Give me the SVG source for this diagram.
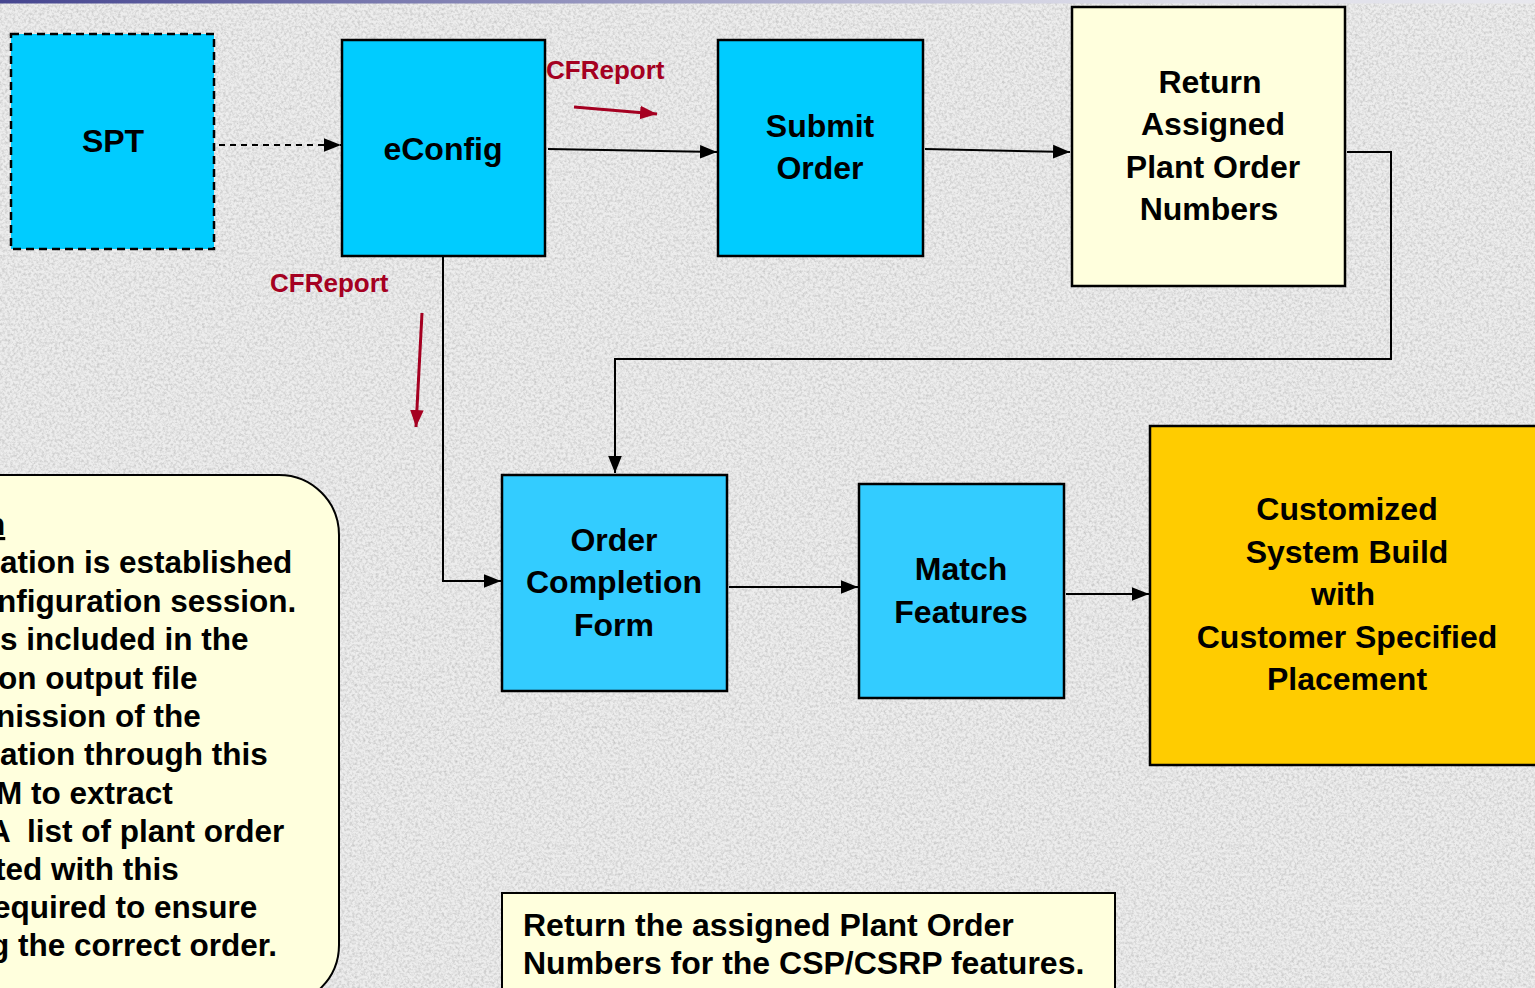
<svg xmlns="http://www.w3.org/2000/svg" width="1535" height="988" viewBox="0 0 1535 988">
<defs>
<linearGradient id="topbar" x1="0" y1="0" x2="1" y2="0">
<stop offset="0" stop-color="#45458f"/>
<stop offset="0.7" stop-color="#d8d8e6"/>
<stop offset="1" stop-color="#e8e8ee"/>
</linearGradient>
<filter id="grain" x="0" y="0" width="100%" height="100%">
<feTurbulence type="fractalNoise" baseFrequency="0.38" numOctaves="3" seed="7" result="n"/>
<feColorMatrix in="n" type="matrix" values="0 0 0 0 0.45  0 0 0 0 0.45  0 0 0 0 0.45  1.3 0 0 0 -0.5"/>
</filter>
<marker id="arrB" viewBox="0 0 10 10" refX="10" refY="5" markerWidth="17" markerHeight="17" orient="auto" markerUnits="userSpaceOnUse">
<path d="M0,1 L10,5 L0,9 z" fill="#000"/>
</marker>
<marker id="arrR" viewBox="0 0 10 10" refX="10" refY="5" markerWidth="17" markerHeight="17" orient="auto" markerUnits="userSpaceOnUse">
<path d="M0,1 L10,5 L0,9 z" fill="#a50021"/>
</marker>
</defs>
<style>
text{font-family:"Liberation Sans",Arial,sans-serif;font-weight:bold;font-size:32px;fill:#000}
.c{text-anchor:middle}
.red{fill:#a50021;font-size:26px}
.box{stroke:#000;stroke-width:2.5}
.blue{fill:#00ccff}
.lblue{fill:#33ccff}
.cream{fill:#ffffdd}
.gold{fill:#ffcc00}
.conn{stroke:#000;stroke-width:2;fill:none}
.note{font-size:31.5px}
</style>
<rect width="1535" height="988" fill="#ededed"/>
<rect width="1535" height="988" filter="url(#grain)"/>
<rect width="1535" height="3.5" fill="url(#topbar)"/>

<g id="connectors">
<line class="conn" x1="219" y1="145" x2="341" y2="145" stroke-dasharray="6,5" marker-end="url(#arrB)"/>
<line class="conn" x1="548" y1="149" x2="717" y2="152" marker-end="url(#arrB)"/>
<line class="conn" x1="925" y1="149" x2="1070" y2="152" marker-end="url(#arrB)"/>
<polyline class="conn" points="1347,152 1391,152 1391,359 615,359 615,473" marker-end="url(#arrB)"/>
<polyline class="conn" points="443,257 443,581 501,581" marker-end="url(#arrB)"/>
<line class="conn" x1="729" y1="587" x2="858" y2="587" marker-end="url(#arrB)"/>
<line class="conn" x1="1066" y1="594" x2="1149" y2="594" marker-end="url(#arrB)"/>
<line x1="574" y1="107" x2="657" y2="114" stroke="#a50021" stroke-width="3" marker-end="url(#arrR)"/>
<line x1="422" y1="313" x2="416" y2="427" stroke="#a50021" stroke-width="3" marker-end="url(#arrR)"/>
<text class="red" x="546" y="79">CFReport</text>
<text class="red" x="270" y="292">CFReport</text>
</g>

<g id="spt">
<rect class="blue" x="11" y="34" width="203" height="215" stroke="#000" stroke-width="2.5" stroke-dasharray="8,5"/>
<text class="c" x="113" y="152">SPT</text>
</g>
<g id="econfig">
<rect class="box blue" x="342" y="40" width="203" height="216"/>
<text class="c" x="443" y="160">eConfig</text>
</g>
<g id="submit-order">
<rect class="box blue" x="718" y="40" width="205" height="216"/>
<text class="c" x="820" y="137">Submit</text>
<text class="c" x="820" y="179">Order</text>
</g>
<g id="return-assigned">
<rect class="box cream" x="1072" y="7" width="273" height="279"/>
<text class="c" x="1210" y="93">Return</text>
<text class="c" x="1213" y="135">Assigned</text>
<text class="c" x="1213" y="178">Plant Order</text>
<text class="c" x="1209" y="220">Numbers</text>
</g>
<g id="order-completion-form">
<rect class="box lblue" x="502" y="475" width="225" height="216"/>
<text class="c" x="614" y="551">Order</text>
<text class="c" x="614" y="593">Completion</text>
<text class="c" x="614" y="636">Form</text>
</g>
<g id="match-features">
<rect class="box lblue" x="859" y="484" width="205" height="214"/>
<text class="c" x="961" y="580">Match</text>
<text class="c" x="961" y="623">Features</text>
</g>
<g id="customized-build">
<rect class="box gold" x="1150" y="426" width="400" height="339"/>
<text class="c" x="1347" y="520">Customized</text>
<text class="c" x="1347" y="563">System Build</text>
<text class="c" x="1343" y="605">with</text>
<text class="c" x="1347" y="648">Customer Specified</text>
<text class="c" x="1347" y="690">Placement</text>
</g>
<g id="left-note">
<rect x="-100" y="475" width="439" height="530" rx="60" ry="60" fill="#ffffdd" stroke="#000" stroke-width="2"/>
<text class="note" x="-14" y="535" text-decoration="underline">n</text>
<text class="note" x="0" y="573">ation is established</text>
<text class="note" x="-3" y="612">nfiguration session.</text>
<text class="note" x="0" y="650">s included in the</text>
<text class="note" x="-2" y="689">on output file</text>
<text class="note" x="-4" y="727">nission of the</text>
<text class="note" x="0" y="765">ation through this</text>
<text class="note" x="-4" y="804">M to extract</text>
<text class="note" x="-12" y="842" xml:space="preserve">A  list of plant order</text>
<text class="note" x="-5" y="880">ted with this</text>
<text class="note" x="-7" y="918">equired to ensure</text>
<text class="note" x="-10" y="956">g the correct order.</text>
</g>
<g id="bottom-note">
<rect x="502" y="893" width="613" height="110" fill="#ffffdd" stroke="#000" stroke-width="2"/>
<text x="523" y="936">Return the assigned Plant Order</text>
<text x="523" y="974">Numbers for the CSP/CSRP features.</text>
</g>
</svg>
